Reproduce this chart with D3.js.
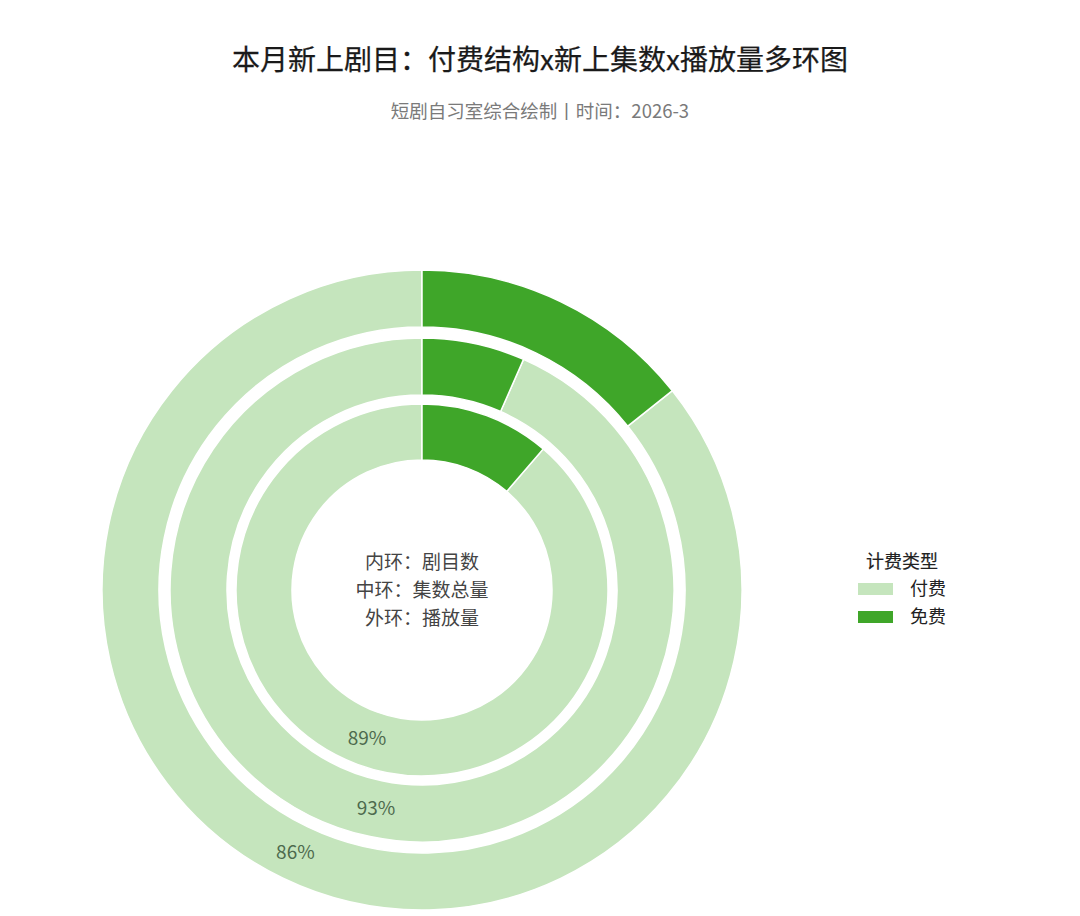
<!DOCTYPE html>
<html><head><meta charset="utf-8">
<script src="https://cdn.jsdelivr.net/npm/d3@7/dist/d3.min.js"></script>
<style>
html,body{margin:0;padding:0;background:#fff;}
svg{display:block;font-family:"Noto Sans CJK SC","Noto Sans",sans-serif;}
</style></head>
<body><svg id="c" width="1080" height="916"></svg>
<script>
const title = "本月新上剧目：付费结构x新上集数x播放量多环图";
const subtitle = "短剧自习室综合绘制丨时间：2026-3";
const categories = ["付费", "免费"];
const ringNames = ["内环：剧目数", "中环：集数总量", "外环：播放量"];
const innerValues = [88.7, 11.3];
const middleValues = [93.4, 6.6];
const outerValues = [85.7, 14.3];
const legendTitle = "计费类型";

const colors = {"付费": "#c5e5bd", "免费": "#3fa629"};
const svg = d3.select("#c");
const W = 1080;

svg.append("text").attr("x", W/2).attr("y", 70).attr("text-anchor", "middle")
  .attr("font-size", 28).attr("font-weight", 400).attr("fill", "#1a1a1a")
  .attr("stroke", "#1a1a1a").attr("stroke-width", 0.25).text(title);
svg.append("text").attr("x", W/2).attr("y", 118).attr("text-anchor", "middle")
  .attr("font-size", 18.5).attr("fill", "#7a7a7a").text(subtitle);

const cx = 422, cy = 590;
const g = svg.append("g").attr("transform", `translate(${cx},${cy})`);

const rings = [
  {values: innerValues, r0: 130, r1: 186},
  {values: middleValues, r0: 195, r1: 252},
  {values: outerValues, r0: 263, r1: 320}
];

// free slice drawn first from 12 o'clock clockwise
const order = ["免费", "付费"];
const pie = d3.pie().value(d => d.value)
  .sort((a, b) => order.indexOf(a.cat) - order.indexOf(b.cat));

rings.forEach(ring => {
  const data = categories.map((c, i) => ({cat: c, value: ring.values[i]}));
  const arcs = pie(data);
  const arc = d3.arc().innerRadius(ring.r0).outerRadius(ring.r1);
  g.selectAll(null).data(arcs).enter().append("path")
    .attr("d", arc).attr("fill", d => colors[d.data.cat])
    .attr("stroke", "#fff").attr("stroke-width", 1.5);
  const total = d3.sum(ring.values);
  const lab = arcs.filter(d => d.data.cat === "付费");
  g.selectAll(null).data(lab).enter().append("text")
    .attr("transform", d => `translate(${arc.centroid(d)})`)
    .attr("text-anchor", "middle").attr("dy", "0.35em")
    .attr("font-size", 19).attr("fill", "#4d6a4d")
    .text(d => Math.round(d.data.value / total * 100) + "%");
});

const centerText = g.append("text").attr("text-anchor", "middle")
  .attr("font-size", 19).attr("fill", "#444");
centerText.selectAll("tspan").data(ringNames).enter().append("tspan")
  .attr("x", 0).attr("y", (d, i) => (i - 1) * 28)
  .attr("dy", "0.35em").text(d => d);

// legend
const lg = svg.append("g").attr("transform", "translate(858,562)");
lg.append("text").attr("x", 44).attr("y", 0).attr("dy", "0.35em").attr("text-anchor", "middle")
  .attr("font-size", 18).attr("fill", "#222").attr("stroke", "#222").attr("stroke-width", 0.2)
  .text(legendTitle);
const items = lg.selectAll(null).data(categories).enter().append("g")
  .attr("transform", (d, i) => `translate(0,${27 + i * 28})`);
items.append("rect").attr("x", 0).attr("y", -6).attr("width", 35).attr("height", 12)
  .attr("fill", d => colors[d]);
items.append("text").attr("x", 52).attr("y", 0).attr("dy", "0.35em")
  .attr("font-size", 18).attr("fill", "#222").text(d => d);
</script></body></html>
